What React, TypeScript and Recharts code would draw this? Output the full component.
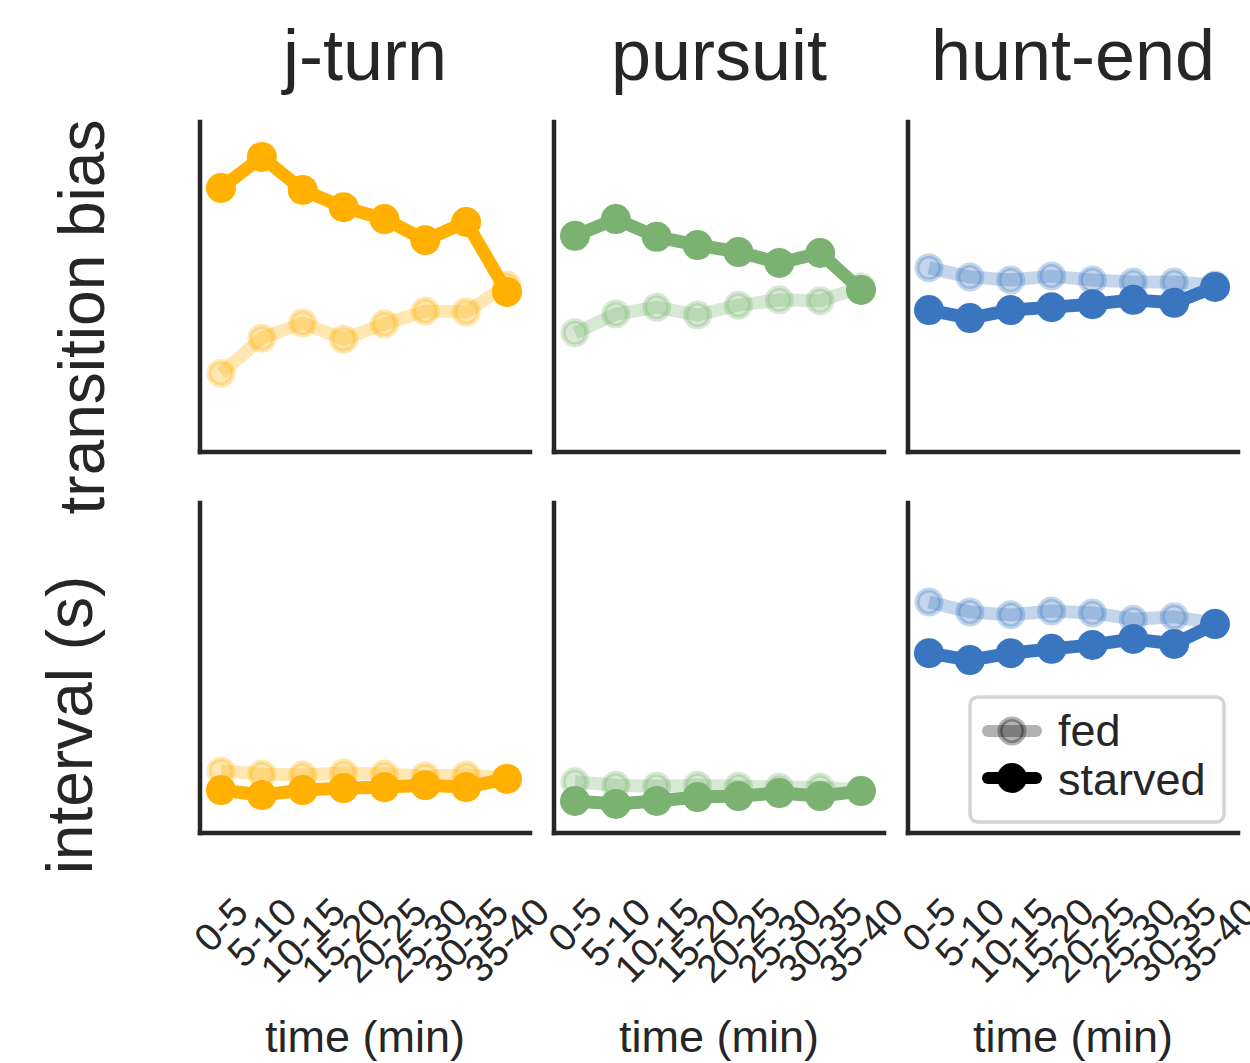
import React from "react";
import { LineChart, Line, XAxis, YAxis } from "recharts";

const timeBins = ["0-5", "5-10", "10-15", "15-20", "20-25", "25-30", "30-35", "35-40"];
const behaviours = ["j-turn", "pursuit", "hunt-end"];
const colours = ["#FFB000", "#7BB272", "#3A76C0"];

// transition bias (top row)
const jturnBiasFed = [0.239, 0.345, 0.391, 0.342, 0.388, 0.427, 0.424, 0.506];
const jturnBiasStarved = [0.8, 0.894, 0.794, 0.742, 0.706, 0.642, 0.697, 0.485];
const pursuitBiasFed = [0.361, 0.418, 0.439, 0.415, 0.445, 0.461, 0.458, 0.5];
const pursuitBiasStarved = [0.655, 0.706, 0.652, 0.627, 0.606, 0.573, 0.603, 0.491];
const huntEndBiasFed = [0.558, 0.53, 0.521, 0.533, 0.521, 0.515, 0.515, 0.506];
const huntEndBiasStarved = [0.43, 0.406, 0.43, 0.439, 0.448, 0.461, 0.452, 0.5];

// interval in seconds (bottom row)
const jturnIntervalFed = [1.88, 1.79, 1.76, 1.82, 1.79, 1.73, 1.76, 1.67];
const jturnIntervalStarved = [1.3, 1.15, 1.3, 1.36, 1.39, 1.45, 1.39, 1.64];
const pursuitIntervalFed = [1.55, 1.45, 1.42, 1.45, 1.42, 1.39, 1.39, 1.3];
const pursuitIntervalStarved = [0.97, 0.88, 0.97, 1.09, 1.12, 1.21, 1.12, 1.27];
const huntEndIntervalFed = [7.0, 6.7, 6.61, 6.73, 6.67, 6.48, 6.55, 6.36];
const huntEndIntervalStarved = [5.45, 5.24, 5.45, 5.58, 5.7, 5.88, 5.73, 6.33];

const FONT = "'Liberation Sans', Arial, Helvetica, sans-serif";
const INK = "#262626";
const PANEL = 330;
const PAD = 40;
const panelLefts = [200, 554, 908];
const rowTops = [122, 503];

function RotatedTick(props: any) {
  const { x, y, payload } = props;
  const f = 39;
  const label = String(payload.value);
  const w = label.split("").reduce((s, c) => s + (c === "-" ? 0.333 : 0.556), 0) * f;
  const h = 0.716 * f;
  const cy = y + 62 + ((w + h) * 0.7071) / 2;
  return (
    <text
      x={x}
      y={cy}
      transform={`rotate(-45 ${x} ${cy})`}
      textAnchor="middle"
      dominantBaseline="central"
      fontSize={f}
      fontFamily={FONT}
      fill={INK}
    >
      {label}
    </text>
  );
}

interface PanelProps {
  left: number;
  top: number;
  fed: number[];
  starved: number[];
  color: string;
  domain: [number, number];
  showTicks: boolean;
}

function Panel({ left, top, fed, starved, color, domain, showTicks }: PanelProps) {
  const data = timeBins.map((bin, i) => ({ bin, fed: fed[i], starved: starved[i] }));
  const extra = showTicks ? 200 : 10;
  const axisStyle = { stroke: INK, strokeWidth: 4.5, strokeLinecap: "square" as const };
  return (
    <div style={{ position: "absolute", left: left - PAD, top: top - 10 }}>
      <LineChart
        width={PANEL + 2 * PAD}
        height={PANEL + 10 + extra}
        data={data}
        margin={{ top: 10, right: PAD, left: PAD - 1, bottom: 0 }}
      >
        <XAxis
          dataKey="bin"
          height={extra}
          padding={{ left: 21, right: 23 }}
          axisLine={axisStyle}
          tickLine={false}
          tickSize={0}
          tickMargin={0}
          interval={0}
          tick={showTicks ? (p: any) => <RotatedTick {...p} /> : false}
        />
        <YAxis domain={domain} width={1} tick={false} tickLine={false} axisLine={axisStyle} />
        <Line
          dataKey="fed"
          stroke={color}
          strokeOpacity={0.3}
          strokeWidth={13}
          strokeLinejoin="round"
          dot={{ r: 12, fill: color, fillOpacity: 0.3, stroke: color, strokeOpacity: 0.3, strokeWidth: 5 }}
          activeDot={false}
          isAnimationActive={false}
        />
        <Line
          dataKey="starved"
          stroke={color}
          strokeWidth={13}
          strokeLinejoin="round"
          dot={{ r: 15, fill: color, stroke: "none" }}
          activeDot={false}
          isAnimationActive={false}
        />
      </LineChart>
    </div>
  );
}

export default function App() {
  const biasFed = [jturnBiasFed, pursuitBiasFed, huntEndBiasFed];
  const biasStarved = [jturnBiasStarved, pursuitBiasStarved, huntEndBiasStarved];
  const intFed = [jturnIntervalFed, pursuitIntervalFed, huntEndIntervalFed];
  const intStarved = [jturnIntervalStarved, pursuitIntervalStarved, huntEndIntervalStarved];

  return (
    <div
      style={{
        position: "absolute",
        left: 0,
        top: 0,
        width: 1250,
        height: 1063,
        background: "#fff",
        fontFamily: FONT,
        overflow: "hidden",
      }}
    >
      {behaviours.map((b, i) => (
        <Panel
          key={`top-${b}`}
          left={panelLefts[i]}
          top={rowTops[0]}
          fed={biasFed[i]}
          starved={biasStarved[i]}
          color={colours[i]}
          domain={[0, 1]}
          showTicks={false}
        />
      ))}
      {behaviours.map((b, i) => (
        <Panel
          key={`bottom-${b}`}
          left={panelLefts[i]}
          top={rowTops[1]}
          fed={intFed[i]}
          starved={intStarved[i]}
          color={colours[i]}
          domain={[0, 10]}
          showTicks={true}
        />
      ))}
      <svg
        width={1250}
        height={1063}
        style={{ position: "absolute", left: 0, top: 0, pointerEvents: "none" }}
      >
        {behaviours.map((b, i) => (
          <text
            key={b}
            x={panelLefts[i] + PANEL / 2}
            y={80}
            textAnchor="middle"
            fontSize={72}
            fontFamily={FONT}
            fill={INK}
          >
            {b}
          </text>
        ))}
        {behaviours.map((b, i) => (
          <text
            key={`xl-${b}`}
            x={panelLefts[i] + PANEL / 2}
            y={1052}
            textAnchor="middle"
            fontSize={45}
            fontFamily={FONT}
            fill={INK}
          >
            time (min)
          </text>
        ))}
        <text
          x={104}
          y={317}
          transform="rotate(-90 104 317)"
          textAnchor="middle"
          fontSize={64}
          fontFamily={FONT}
          fill={INK}
        >
          transition bias
        </text>
        <text
          x={92}
          y={725}
          transform="rotate(-90 92 725)"
          textAnchor="middle"
          fontSize={64}
          fontFamily={FONT}
          fill={INK}
        >
          interval (s)
        </text>

        {/* legend */}
        <rect x={970} y={697} width={254} height={125} rx={8} fill="#fff" stroke="#d4d4d4" strokeWidth={3.5} />
        <line x1={988} y1={731} x2={1036} y2={731} stroke="#000" strokeOpacity={0.3} strokeWidth={12} strokeLinecap="round" />
        <circle cx={1012} cy={731} r={12} fill="#000" fillOpacity={0.3} stroke="#000" strokeOpacity={0.3} strokeWidth={5} />
        <text x={1058} y={746} fontSize={45} fontFamily={FONT} fill={INK}>
          fed
        </text>
        <line x1={988} y1={778} x2={1036} y2={778} stroke="#000" strokeWidth={12} strokeLinecap="round" />
        <circle cx={1012} cy={778} r={15} fill="#000" />
        <text x={1058} y={795} fontSize={45} fontFamily={FONT} fill={INK}>
          starved
        </text>
      </svg>
    </div>
  );
}
